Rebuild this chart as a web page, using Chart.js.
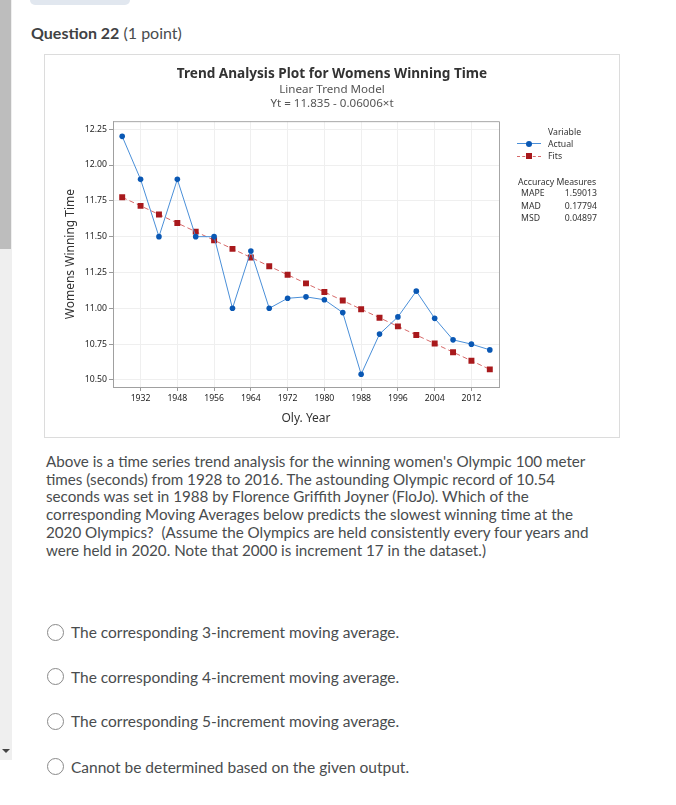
<!DOCTYPE html>
<html><head><meta charset="utf-8">
<script src="https://cdn.jsdelivr.net/npm/chart.js@4.4.1/dist/chart.umd.min.js"></script>
<style>
body{margin:0;background:#fff;font-family:Lato,"Open Sans",sans-serif;color:#494c4e;}
#page{position:relative;width:676px;height:805px;overflow:hidden;background:#fff;}
.abs{position:absolute;white-space:nowrap;}
#strip{left:0;top:0;width:12px;height:760px;background:#efefef;}
#thumb{left:0;top:0;width:11px;height:249px;background:#bdbdbd;}
#arrow{left:2px;top:749px;width:0;height:0;border-left:4px solid transparent;border-right:4px solid transparent;border-top:4px solid #444;}
#tab{left:30px;top:-6px;width:100px;height:11px;background:#e1e7ef;border-radius:5px;}
#q{left:31px;top:23px;font-size:16px;line-height:20px;}
#q b{font-weight:700;color:#3f4244;}
#box{left:44px;top:54px;width:576px;height:384px;box-sizing:border-box;border:1px solid #dcdcdc;}
#cv{position:absolute;left:45px;top:56px;}
.lg{font-family:"Noto Sans",sans-serif;font-size:8.7px;color:#333;line-height:12px;}
#para{left:46px;top:453px;font-size:15.2px;line-height:17.7px;color:#494c4e;}
.opt{font-size:15.5px;line-height:20px;color:#494c4e;}
.rad{position:absolute;width:15px;height:15px;border:1px solid #8a8a8a;border-radius:50%;background:#fff;}
</style></head>
<body><div id="page">
<div class="abs" id="strip"></div><div class="abs" id="thumb"></div><div class="abs" id="arrow"></div>
<div class="abs" id="tab"></div>
<div class="abs" id="q"><b>Question 22</b> (1 point)</div>
<div class="abs" id="box"></div>
<canvas id="cv" width="574" height="380"></canvas>

<div class="abs lg" style="left:548px;top:126px;">Variable</div>
<div class="abs" style="left:517px;top:143px;width:24px;height:1px;background:#4a8fd8;"></div>
<div class="abs" style="left:526px;top:141px;width:6px;height:6px;border-radius:50%;background:#0a58b4;"></div>
<div class="abs lg" style="left:548px;top:138px;">Actual</div>
<div class="abs" style="left:517px;top:156px;width:24px;height:0;border-top:1px dashed #d66a6a;"></div>
<div class="abs" style="left:526px;top:153px;width:6px;height:6px;background:#a8191c;"></div>
<div class="abs lg" style="left:548px;top:150px;">Fits</div>
<div class="abs lg" style="left:518px;top:176px;">Accuracy Measures</div>
<div class="abs lg" id="acc" style="left:521px;top:187px;"></div>

<div class="abs" id="para">Above is a time series trend analysis for the winning women's Olympic 100 meter<br>times (seconds) from 1928 to 2016. The astounding Olympic record of 10.54<br>seconds was set in 1988 by Florence Griffith Joyner (FloJo). Which of the<br>corresponding Moving Averages below predicts the slowest winning time at the<br>2020 Olympics?&nbsp; (Assume the Olympics are held consistently every four years and<br>were held in 2020. Note that 2000 is increment 17 in the dataset.)</div>

<div class="rad" style="left:47px;top:624px;"></div><div class="abs opt" style="left:71px;top:622px;">The corresponding 3-increment moving average.</div>
<div class="rad" style="left:47px;top:668px;"></div><div class="abs opt" style="left:71px;top:667px;">The corresponding 4-increment moving average.</div>
<div class="rad" style="left:47px;top:713px;"></div><div class="abs opt" style="left:71px;top:711px;">The corresponding 5-increment moving average.</div>
<div class="rad" style="left:47px;top:758px;"></div><div class="abs opt" style="left:71px;top:757px;">Cannot be determined based on the given output.</div>
</div>
<script>
const years = ['1928','1932','1936','1948','1952','1956','1960','1964','1968','1972','1976','1980','1984','1988','1992','1996','2000','2004','2008','2012','2016'];
const actual = [12.20,11.90,11.50,11.90,11.50,11.50,11.00,11.40,11.00,11.07,11.08,11.06,10.97,10.54,10.82,10.94,11.12,10.93,10.78,10.75,10.71];
const fits = [11.775,11.715,11.655,11.595,11.535,11.475,11.415,11.355,11.294,11.234,11.174,11.114,11.054,10.994,10.934,10.874,10.814,10.754,10.694,10.634,10.574];
const xTickLabels = ['1932','1948','1956','1964','1972','1980','1988','1996','2004','2012'];
const yTicks = [10.50,10.75,11.00,11.25,11.50,11.75,12.00,12.25];
const accNames = ['MAPE','MAD','MSD'];
const accValues = ['1.59013','0.17794','0.04897'];

document.getElementById('acc').innerHTML = accNames.map((n,i)=>
  '<div style="position:relative;height:12.5px;width:76px;"><span>'+n+'</span><span style="position:absolute;right:0;top:0;">'+accValues[i]+'</span></div>').join('');

Chart.defaults.font.family = '"Noto Sans", sans-serif';
Chart.defaults.color = '#333';
const frame = {id:'frame', afterDatasetsDraw(c){const a=c.chartArea,x=c.ctx;x.save();x.strokeStyle='#a6a6a6';x.lineWidth=1;x.beginPath();x.moveTo(a.left,a.top+0.5);x.lineTo(a.right+0.5,a.top+0.5);x.lineTo(a.right+0.5,a.bottom);x.stroke();x.restore();}};
const isLab = i => xTickLabels.includes(years[i]);
new Chart(document.getElementById('cv'), {
  type:'line',
  data:{labels:years, datasets:[
    {label:'Actual', data:actual, borderColor:'#4a8fd8', borderWidth:1, tension:0, pointStyle:'circle', pointRadius:2.8, pointBackgroundColor:'#0a58b4', pointBorderColor:'#0a58b4', pointBorderWidth:0},
    {label:'Fits', data:fits, borderColor:'#d66a6a', borderWidth:1, borderDash:[5,3], tension:0, pointStyle:'rect', pointRadius:4.2, pointBackgroundColor:'#a8191c', pointBorderColor:'#a8191c', pointBorderWidth:0}
  ]},
  options:{
    responsive:false, animation:false, devicePixelRatio:1,
    layout:{padding:{left:0,right:0,top:0,bottom:0}},
    plugins:{
      legend:{display:false}, tooltip:{enabled:false},
      title:{display:true, text:'Trend Analysis Plot for Womens Winning Time', color:'#333', font:{size:13.6, weight:'bold'}, padding:{top:10,bottom:0}},
      subtitle:{display:true, text:['Linear Trend Model','Yt = 11.835 - 0.06006\u00d7t'], color:'#555', font:{size:11.6, lineHeight:1.2}, padding:{top:0,bottom:11}}
    },
    scales:{
      x:{type:'category', offset:true,
        grid:{offset:false, color:c=>isLab(c.index)?'#efefef':'rgba(0,0,0,0)', tickColor:c=>isLab(c.index)?'#999':'rgba(0,0,0,0)', tickLength:4},
        border:{color:'#a0a0a0'},
        ticks:{autoSkip:false, maxRotation:0, padding:2, font:{size:8.7}, color:'#222', callback:function(v,i){return isLab(i)?years[i]:'';}},
        title:{display:true, text:'Oly. Year', color:'#333', font:{size:12}, padding:{top:0,bottom:10}},
        afterFit:s=>{s.height=49;}},
      y:{min:10.451, max:12.306,
        afterBuildTicks:s=>{s.ticks=yTicks.map(v=>({value:v}));},
        grid:{color:'#efefef', tickColor:'#999', tickLength:4},
        border:{color:'#a0a0a0'},
        ticks:{padding:2, font:{size:8.7}, color:'#222', callback:v=>Number(v).toFixed(2)},
        title:{display:true, text:'Womens Winning Time', color:'#333', font:{size:12}, padding:{top:18,bottom:0}},
        afterFit:s=>{s.width=68;}},
      side:{type:'linear', position:'right', display:true,
        grid:{display:false, drawTicks:false}, border:{display:false}, ticks:{display:false},
        afterFit:s=>{s.width=120;}}
    }
  },
  plugins:[frame]
});
</script>
</body></html>
